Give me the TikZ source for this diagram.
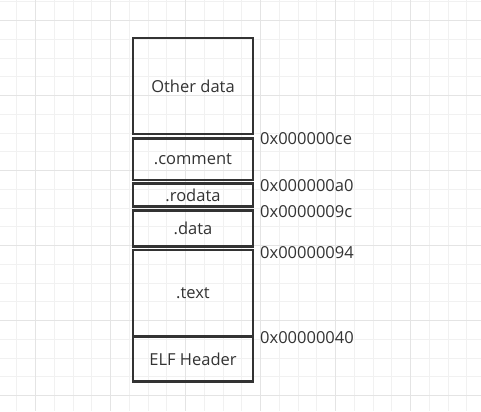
\documentclass[tikz,border=0pt]{standalone}
\usepackage{fontspec}
\setmainfont{Open Sans}
\usetikzlibrary{positioning}
\definecolor{ink}{HTML}{333333}
\definecolor{gridminor}{HTML}{F1F1F1}
\definecolor{gridmajor}{HTML}{E4E4E4}
\begin{document}
\begin{tikzpicture} [
        x=1bp, y=-1bp,
        section/.style={draw=ink, rectangle, line width=2.8bp, outer sep=0pt, inner sep=0pt,
            minimum width=120bp, text=ink, font=\fontsize{16.5bp}{19bp}\selectfont},
        addr/.style={inner sep=0pt, text=ink, font=\fontsize{16.5bp}{19bp}\selectfont},
        node distance=3.8bp ]
    \useasboundingbox (0,0) rectangle (481,411);
    \fill[white] (0,0) rectangle (481,411);
    % background grid
    \foreach \i in {0,...,24}
        \draw[gridminor, line width=1bp] ({16.95+18.75*\i},0) -- ({16.95+18.75*\i},411);
    \foreach \i in {0,...,21}
        \draw[gridminor, line width=1bp] (0,{1.95+18.75*\i}) -- (481,{1.95+18.75*\i});
    \foreach \i in {0,...,5}
        \draw[gridmajor, line width=1bp] ({35.7+75*\i},0) -- ({35.7+75*\i},411);
    \foreach \i in {0,...,5}
        \draw[gridmajor, line width=1bp] (0,{20.7+75*\i}) -- (481,{20.7+75*\i});

    \node[section, minimum height=96bp] (other) at (193,86) {Other data};
    \node[section, minimum height=41.5bp, below=4.5bp of other] (comment) {.comment};
    \node[section, minimum height=23bp, below=of comment] (rodata) {.rodata};
    \node[section, minimum height=35.5bp, below=of rodata] (data) {.data};
    \node[section, minimum height=86.5bp, below=of data] (text) {.text};
    \node[section, minimum height=45bp, below=0bp of text] (elf) {ELF Header};

    \node[addr, right=7bp of comment.north east, yshift=-0.5bp] (ce) {0x000000ce};
    \node[addr, right=7bp of rodata.north east, yshift=-2bp] (a0) {0x000000a0};
    \node[addr, right=7bp of data.north east, yshift=-1bp] (9c) {0x0000009c};
    \node[addr, right=7bp of text.north east, yshift=-2.5bp] (94) {0x00000094};
    \node[addr, right=7bp of elf.north east, yshift=-1bp] (40) {0x00000040};
\end{tikzpicture}
\end{document}
